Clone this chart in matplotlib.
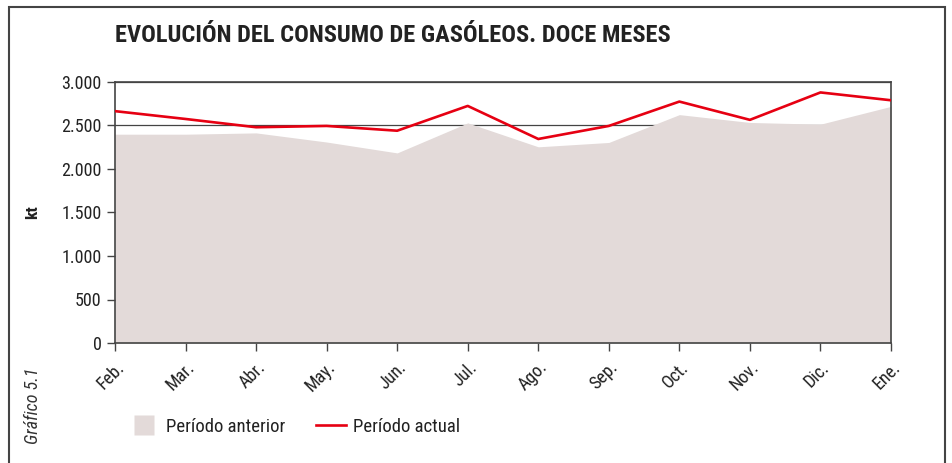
import matplotlib.pyplot as plt
from matplotlib import font_manager
from matplotlib.patches import Rectangle
from matplotlib.lines import Line2D
from matplotlib.ticker import FuncFormatter

# === Datos ===
meses = ["Feb.", "Mar.", "Abr.", "May.", "Jun.", "Jul.",
         "Ago.", "Sep.", "Oct.", "Nov.", "Dic.", "Ene."]
periodo_anterior = [2400, 2400, 2415, 2310, 2185, 2530,
                    2255, 2305, 2625, 2535, 2515, 2720]
periodo_actual = [2665, 2575, 2480, 2495, 2440, 2725,
                  2345, 2495, 2775, 2565, 2880, 2790]

# === Fuente estrecha (tipo Helvetica Condensed) si existe ===
disponibles = {f.name for f in font_manager.fontManager.ttflist}
candidatas = ["Roboto Condensed", "Liberation Sans Narrow", "Archivo Narrow",
              "PT Sans Narrow", "Roboto"]
fuente = next((c for c in candidatas if c in disponibles), "DejaVu Sans")
plt.rcParams['font.family'] = [fuente, 'DejaVu Sans']

GRIS = "#444444"
TEXTO = "#222222"
FONDO = "#e3dad9"
ROJO = "#e60012"

fig = plt.figure(figsize=(9.52, 4.63), dpi=100)
ax = fig.add_axes([115 / 952, 120 / 463, 776 / 952, 261 / 463])

x = range(len(meses))
ax.fill_between(x, periodo_anterior, 0, color=FONDO, lw=0, zorder=1)
ax.plot(x, periodo_actual, color=ROJO, lw=1.9, zorder=3)

ax.set_xlim(0, len(meses) - 1)
ax.set_ylim(0, 3000)
ax.set_yticks(range(0, 3001, 500))
ax.yaxis.set_major_formatter(FuncFormatter(lambda v, p: f"{int(v):,}".replace(",", ".")))
ax.set_xticks(list(x))
ax.set_xticklabels(meses, rotation=45, ha="right", rotation_mode="anchor")

ax.grid(axis="y", color=GRIS, lw=0.9, zorder=0)
ax.set_axisbelow(True)
for s in ax.spines.values():
    s.set_color(GRIS)
    s.set_linewidth(1.2)
ax.tick_params(colors=GRIS, labelcolor=TEXTO, labelsize=13, length=6, width=1)
ax.tick_params(axis="x", pad=5)

ax.set_ylabel("kt", fontsize=12.5, fontweight="bold", color=TEXTO)
ax.yaxis.set_label_coords((40 - 115) / 776, 0.5)

# === Título y textos ===
fig.text(115 / 952, 1 - 35 / 463, "EVOLUCIÓN DEL CONSUMO DE GASÓLEOS. DOCE MESES",
         fontsize=17.6, fontweight="bold", color=TEXTO, va="center", ha="left")
fig.text(33 / 952, 1 - 406 / 463, "Gráfico 5.1", rotation=90, style="italic",
         fontsize=13, color="#333333", va="center", ha="center")

# === Leyenda ===
handles = [Line2D([0], [0], ls="none", marker="s", markersize=14,
                  markerfacecolor=FONDO, markeredgecolor="none"),
           Line2D([0], [0], color=ROJO, lw=1.9)]
fig.legend(handles, ["Período anterior", "Período actual"], ncol=2, frameon=False,
           loc="center left", bbox_to_anchor=(129 / 952, 1 - 427 / 463),
           borderpad=0, borderaxespad=0,
           fontsize=13.5, handlelength=1.6, columnspacing=1.6,
           handletextpad=0.4, labelcolor=TEXTO)

# === Marco ===
fig.patches.append(Rectangle((9 / 952, -0.1), 936 / 952, 1.1 - 7 / 463,
                             transform=fig.transFigure, fill=False,
                             edgecolor=GRIS, lw=1.5, clip_on=False))

fig.savefig("out.png", dpi=100)
